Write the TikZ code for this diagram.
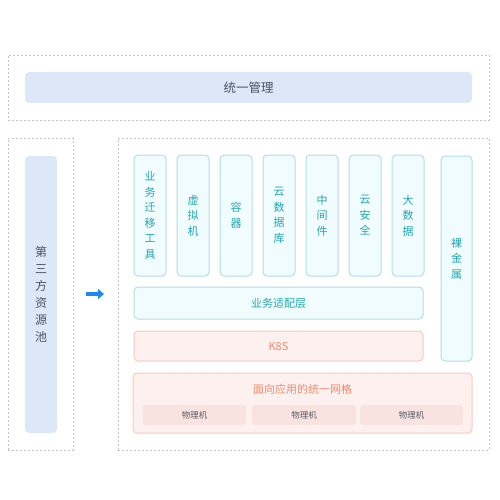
\documentclass[tikz,border=0pt]{standalone}
\usepackage{fontspec}
\newfontfamily\cjk{Noto Sans CJK SC}
\usetikzlibrary{arrows.meta}
\definecolor{mgmtfill}{HTML}{DCE8F8}
\definecolor{mgmttext}{HTML}{4A5263}
\definecolor{tealfill}{HTML}{F0FCFD}
\definecolor{tealdraw}{HTML}{B2E0E4}
\definecolor{tealtext}{HTML}{22A6B0}
\definecolor{pinkfill}{HTML}{FDF1EF}
\definecolor{pinkdraw}{HTML}{F9C9BF}
\definecolor{pinktext}{HTML}{F28A6E}
\definecolor{physfill}{HTML}{F9E3E1}
\definecolor{phystext}{HTML}{555B66}
\definecolor{dashgray}{HTML}{C4C4C4}
\definecolor{arrowblue}{HTML}{1E88F0}
\tikzset{
  dashbox/.style={draw=dashgray, line width=0.9pt, dash pattern=on 2pt off 2pt, inner sep=0pt},
  bluebox/.style={fill=mgmtfill, rounded corners=4pt, inner sep=0pt, text=mgmttext},
  tealbox/.style={draw=tealdraw, fill=tealfill, line width=1pt, rounded corners=4pt, inner sep=0pt, text=tealtext},
  pinkbox/.style={draw=pinkdraw, fill=pinkfill, line width=1pt, rounded corners=4pt, inner sep=0pt, text=pinktext},
  physbox/.style={fill=physfill, rounded corners=3pt, inner sep=0pt, text=phystext, font=\cjk\fontsize{8.5}{10}\selectfont},
  coltext/.style={align=center, font=\cjk\fontsize{11}{15.5}\selectfont},
}
\begin{document}
\begin{tikzpicture}[x=1pt,y=-1pt]
\useasboundingbox (0,0) rectangle (500,500);
% top
\node[dashbox, minimum width=481pt, minimum height=65pt] (topdash) at (248.5,87.5) {};
\node[bluebox, minimum width=447pt, minimum height=31pt, font=\cjk\fontsize{12.5}{14}\selectfont] (mgmt) at (248.5,87.5) {统一管理};
% left
\node[dashbox, minimum width=65pt, minimum height=312pt] (leftdash) at (40.5,294) {};
\node[bluebox, minimum width=32pt, minimum height=277pt, align=center, font=\cjk\fontsize{12}{17}\selectfont] (pool) at (41,294.5) {第\\三\\方\\资\\源\\池};
% arrow
\coordinate (a1) at (86,294);
\coordinate (a2) at (104,294);
\draw[arrowblue, line width=3.4pt, -{Triangle[length=6pt,width=10pt]}] (a1) -- (a2);
% right
\node[dashbox, minimum width=371pt, minimum height=312pt] (rightdash) at (303.5,294) {};
\node[tealbox, coltext, minimum width=32pt, minimum height=121pt] (c1) at (150,215.5) {业\\务\\迁\\移\\工\\具};
\node[tealbox, coltext, minimum width=32pt, minimum height=121pt] (c2) at (193,215.5) {虚\\拟\\机};
\node[tealbox, coltext, minimum width=32pt, minimum height=121pt] (c3) at (236,215.5) {容\\器};
\node[tealbox, coltext, minimum width=32pt, minimum height=121pt] (c4) at (279,215.5) {云\\数\\据\\库};
\node[tealbox, coltext, minimum width=32pt, minimum height=121pt] (c5) at (322,215.5) {中\\间\\件};
\node[tealbox, coltext, minimum width=32pt, minimum height=121pt] (c6) at (365,215.5) {云\\安\\全};
\node[tealbox, coltext, minimum width=32pt, minimum height=121pt] (c7) at (408,215.5) {大\\数\\据};
\node[tealbox, coltext, minimum width=31pt, minimum height=205pt] (bare) at (456.5,258.5) {裸\\金\\属};
\node[tealbox, minimum width=289pt, minimum height=32pt, font=\cjk\fontsize{11}{12}\selectfont] (adapt) at (278.5,303) {业务适配层};
\node[pinkbox, minimum width=289pt, minimum height=30pt, font=\cjk\fontsize{11}{12}\selectfont] (k8s) at (278.5,346) {K8S};
\node[pinkbox, minimum width=339pt, minimum height=60pt] (grid) at (302.5,403) {};
\node[text=pinktext, inner sep=0pt, font=\cjk\fontsize{11}{12}\selectfont] (gridlabel) at (302.5,389) {面向应用的统一网格};
\node[physbox, minimum width=103pt, minimum height=20pt] (p1) at (194.5,415) {物理机};
\node[physbox, minimum width=104pt, minimum height=20pt] (p2) at (304,415) {物理机};
\node[physbox, minimum width=103pt, minimum height=20pt] (p3) at (411.5,415) {物理机};
\end{tikzpicture}
\end{document}
